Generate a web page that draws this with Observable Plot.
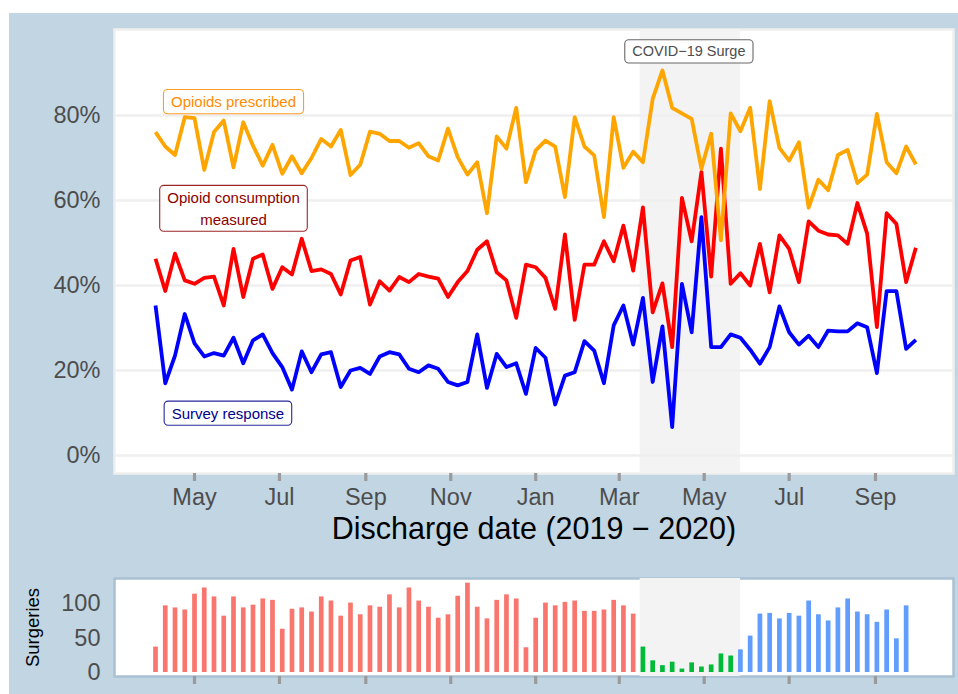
<!DOCTYPE html>
<html><head><meta charset="utf-8">
<script src="https://cdn.jsdelivr.net/npm/d3@7"></script>
<script src="https://cdn.jsdelivr.net/npm/@observablehq/plot@0.6"></script>
<style>
html,body{margin:0;padding:0;background:#fff;}
#wrap{position:relative;width:958px;height:694px;overflow:hidden;font-family:"Liberation Sans",Arial,Helvetica,sans-serif;}
#bg{position:absolute;left:9px;top:13px;right:0;bottom:0;background:#c1d5e3;}
#top,#bottom{position:absolute;left:0;}
#top{top:0;}
#bottom{top:560px;}
</style></head><body>
<div id="wrap"><div id="bg"></div><div id="top"></div><div id="bottom"></div></div>
<script>
// ---------- data ----------
const firstWeek = "2019-04-03";
const opioidsPrescribed = [76.1,72.7,70.7,79.6,79.4,67.2,76.1,78.8,67.8,78.4,72.9,68.2,73.1,66.3,70.4,66.4,70.0,74.5,72.7,76.6,66.0,68.4,76.2,75.7,74.0,74.0,72.4,73.5,70.4,69.4,76.9,70.2,66.1,69.0,57.0,75.1,72.2,81.8,64.3,71.8,74.1,72.7,60.8,79.6,72.7,70.6,56.1,79.6,67.7,71.5,69.0,83.9,90.6,81.8,80.5,79.2,67.5,75.7,50.6,80.5,76.3,81.8,62.7,83.4,72.4,69.4,73.7,58.3,64.9,62.4,70.7,71.9,64.1,66.1,80.4,69.0,66.4,72.7,68.5];
const consumptionMeasured = [46.3,38.7,47.5,41.2,40.4,41.8,42.1,35.3,48.6,37.3,46.3,47.3,39.2,44.3,42.6,51.0,43.4,43.8,42.7,37.9,45.9,46.7,35.5,41.0,38.8,42.0,40.8,42.7,42.1,41.6,37.3,40.8,43.4,48.4,50.4,43.1,41.2,32.4,44.9,44.3,41.8,34.5,52.0,31.9,44.9,44.9,50.4,45.7,54.1,43.5,58.4,33.7,40.5,25.5,60.6,50.4,66.7,42.1,72.2,40.4,42.9,40.0,49.8,38.4,51.8,48.6,40.8,55.1,52.9,52.0,51.8,49.8,59.4,52.2,30.2,57.0,54.5,40.8,48.9];
const surveyResponse = [35.3,17.0,23.5,33.3,26.4,23.3,24.1,23.5,27.7,21.7,27.1,28.5,24.1,20.8,15.5,24.5,19.6,23.8,24.3,16.1,20.0,20.6,19.2,23.3,24.3,23.8,20.4,19.6,21.2,20.4,17.3,16.5,17.3,28.5,15.9,23.9,20.8,21.7,14.5,25.3,23.0,12.0,18.8,19.6,26.9,24.7,17.0,30.6,35.3,26.1,37.1,17.3,30.4,6.7,40.4,29.0,56.1,25.5,25.5,28.5,27.7,24.9,21.6,25.5,35.1,29.0,26.1,28.2,25.5,29.4,29.2,29.2,31.1,30.2,19.4,38.7,38.7,25.1,27.2];
const surgeriesPre = [37,97,94,91,114,123,110,82,110,94,98,107,105,63,92,94,88,110,104,82,101,84,97,95,113,94,123,104,95,79,84,111,130,95,78,105,113,107,36,79,101,97,102,104,89,89,91,105,97,85];
const surgeriesSurge = [37,17,10,15,5,14,8,11,27,24];
const surgeriesPost = [33,53,85,86,78,86,82,104,84,75,94,107,88,84,73,91,49,97];
const monthTicks = ["2019-05-01","2019-07-01","2019-09-01","2019-11-01","2020-01-01","2020-03-01","2020-05-01","2020-07-01","2020-09-01"];
const yTicksPct = [0,20,40,60,80];
const yTicksSurg = [0,50,100];
const surgeWindow = ["2020-03-16","2020-05-27"];
const seriesNames = ["Survey response","Opioid consumption measured","Opioids prescribed"];
const seriesColors = ["#0000FF","#FF0000","#FFA500"];
const periodColors = ["#F8766D","#00BA38","#619CFF"];
const annotations = [
  {text:"Opioids prescribed", date:"2019-05-29", value:83.6, color:"#FF8C00", size:15},
  {text:"Opioid consumption\nmeasured", date:"2019-05-29", value:58.5, color:"#8B0000", size:15},
  {text:"Survey response", date:"2019-05-25", value:10.3, color:"#00008B", size:15},
  {text:"COVID\u221219 Surge", date:"2020-04-20", value:95.5, color:"#4d4d4d", size:14.5}
];

// ---------- tables ----------
const start = new Date(firstWeek + "T00:00:00Z");
const weekOf = i => d3.utcDay.offset(start, 7 * i);
const seriesValues = [surveyResponse, consumptionMeasured, opioidsPrescribed];
const lineRows = seriesValues.flatMap((vals, s) => vals.map((v, i) => ({date: weekOf(i), value: v, series: seriesNames[s]})));
const barRows = [];
[surgeriesPre, surgeriesSurge, surgeriesPost].forEach((arr, p) => arr.forEach(v => barRows.push({count: v, color: periodColors[p]})));
barRows.forEach((r, i) => r.date = weekOf(i));
const ticks = monthTicks.map(d => new Date(d + "T00:00:00Z"));
const surge = [{x1: new Date(surgeWindow[0] + "T00:00:00Z"), x2: new Date(surgeWindow[1] + "T00:00:00Z")}];

const font = "'Liberation Sans', Arial, Helvetica, sans-serif";
const xDomain = [new Date("2019-03-04T13:12:00Z"), new Date("2020-10-27T00:15:00Z")];
const axisGrey = "#4d4d4d";
const tickGrey = "#9a9a9a";

// ---------- top chart ----------
const topMarks = [
  Plot.frame({fill: "white", stroke: "#efefef", strokeWidth: 2.5}),
  Plot.rect(surge, {x1: "x1", x2: "x2", fill: "#f3f3f3"}),
  Plot.gridY(yTicksPct, {stroke: "#efefef", strokeOpacity: 1, strokeWidth: 2.5}),
  ...seriesNames.map((name, s) => Plot.line(lineRows.filter(r => r.series === name), {x: "date", y: "value", stroke: seriesColors[s], strokeWidth: 3.8, strokeLinejoin: "round", strokeLinecap: "butt"})),
  ...annotations.map(a => Plot.text([a], {x: d => new Date(d.date + "T00:00:00Z"), y: "value", text: "text", fill: a.color, fontSize: a.size, lineHeight: 1.45, ariaDescription: "annotation"})),
  Plot.axisY(yTicksPct, {tickFormat: d => d + "%", tickSize: 0, tickPadding: 14, fontSize: 23.5, color: axisGrey, label: null}),
  Plot.axisX(ticks, {tickFormat: d3.utcFormat("%b"), tickSize: 8, tickPadding: 7, strokeWidth: 3.2, stroke: tickGrey, fill: axisGrey, fontSize: 23.5, label: null}),
  Plot.text(["Discharge date (2019 \u2212 2020)"], {frameAnchor: "bottom", lineAnchor: "middle", dy: 56, fontSize: 30.5, fill: "black"})
];
const topChart = Plot.plot({
  width: 958, height: 545,
  marginLeft: 114, marginRight: 5, marginTop: 29, marginBottom: 72,
  x: {type: "utc", domain: xDomain},
  y: {domain: [-4.235, 100.235]},
  style: {background: "transparent", fontFamily: font, overflow: "visible"},
  marks: topMarks
});
document.getElementById("top").appendChild(topChart);

// annotation boxes (label style)
topChart.querySelectorAll('g[aria-description="annotation"]').forEach(g => {
  g.querySelectorAll("text").forEach(t => {
    const color = t.getAttribute("fill") || g.getAttribute("fill");
    const b = t.getBBox();
    const padX = 7.5, padY = 3.6;
    const r = document.createElementNS("http://www.w3.org/2000/svg", "rect");
    r.setAttribute("x", b.x - padX);
    r.setAttribute("y", b.y - padY);
    r.setAttribute("width", b.width + 2 * padX);
    r.setAttribute("height", b.height + 2 * padY);
    r.setAttribute("rx", 4);
    r.setAttribute("fill", "white");
    r.setAttribute("stroke", color);
    r.setAttribute("stroke-opacity", 0.85);
    r.setAttribute("stroke-width", 1.1);
    if (t.getAttribute("transform")) r.setAttribute("transform", t.getAttribute("transform"));
    t.parentNode.insertBefore(r, t);
  });
});

// ---------- bottom chart ----------
const bottomChart = Plot.plot({
  width: 958, height: 134,
  marginLeft: 114, marginRight: 5, marginTop: 18, marginBottom: 18,
  x: {type: "utc", domain: xDomain},
  y: {domain: [-5.82, 136.8]},
  style: {background: "transparent", fontFamily: font, overflow: "visible"},
  marks: [
    Plot.frame({fill: "white", stroke: "#a9c1d2", strokeWidth: 2.5}),
    Plot.rect(surge, {x1: "x1", x2: "x2", fill: "#f3f3f3"}),
    Plot.ruleX(barRows, {x: "date", y1: 0, y2: "count", stroke: "color", strokeWidth: 4.7}),
    Plot.axisY(yTicksSurg, {tickSize: 0, tickPadding: 14, fontSize: 23.5, color: axisGrey, label: null}),
    Plot.axisX(ticks, {tickFormat: () => "", tickSize: 8, strokeWidth: 3.2, stroke: tickGrey, fill: "none", label: null}),
    Plot.text(["Surgeries"], {frameAnchor: "left", textAnchor: "middle", lineAnchor: "middle", dx: -81, rotate: -90, fontSize: 18.5, fill: "black"})
  ]
});
document.getElementById("bottom").appendChild(bottomChart);
</script>
</body></html>
